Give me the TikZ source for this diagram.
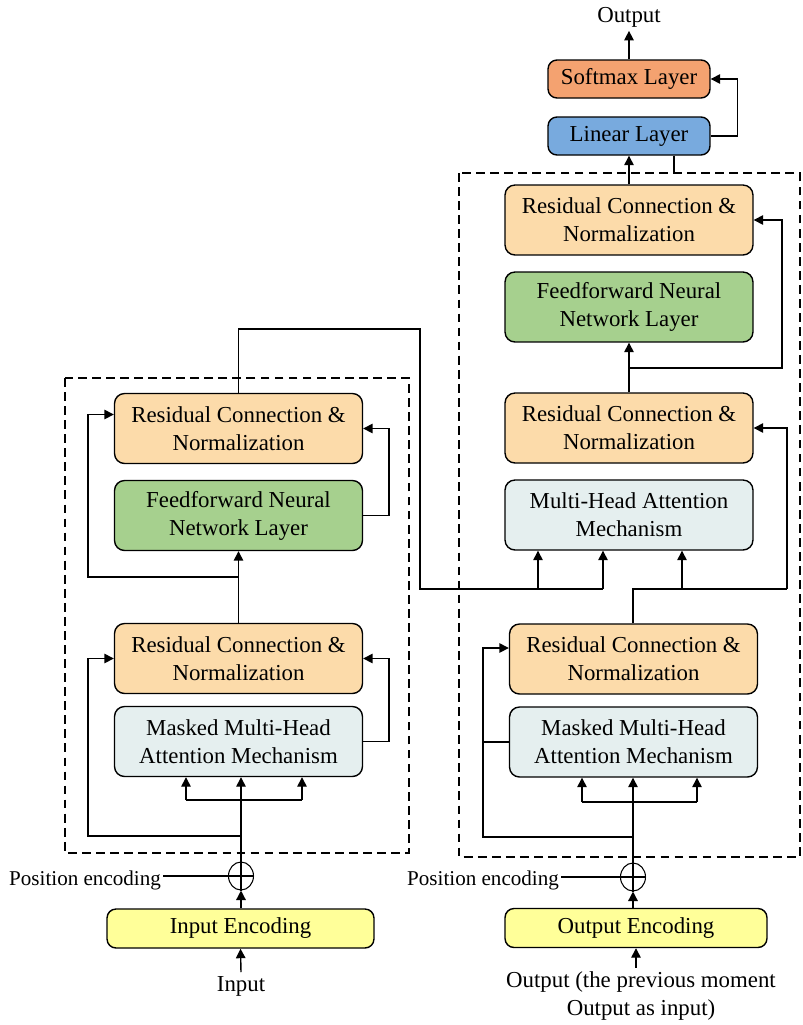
\documentclass[tikz,border=0pt]{standalone}
\usepackage{fontspec}
\setmainfont{Liberation Serif}
\usetikzlibrary{arrows.meta,calc,shapes.geometric}
\definecolor{resc}{RGB}{252,219,170}
\definecolor{ffc}{RGB}{166,208,142}
\definecolor{mhac}{RGB}{229,239,239}
\definecolor{encc}{RGB}{255,255,153}
\definecolor{smc}{RGB}{244,162,112}
\definecolor{linc}{RGB}{120,170,222}
\begin{document}
\begin{tikzpicture}[x=0.02cm,y=-0.02cm,
  font=\fontsize{13}{16}\selectfont,
  box/.style={draw, line width=0.8pt, rounded corners=0.2cm, align=center, inner sep=0pt, minimum width=4.96cm, minimum height=1.4cm},
  res/.style={box, fill=resc},
  ff/.style={box, fill=ffc},
  mha/.style={box, fill=mhac},
  small/.style={draw, line width=0.8pt, rounded corners=0.18cm, align=center, inner sep=0pt, minimum width=3.24cm, minimum height=0.76cm},
  enc/.style={draw, line width=0.8pt, rounded corners=0.18cm, fill=encc, inner sep=0pt, minimum height=0.78cm},
  ln/.style={line width=0.8pt},
  arr/.style={ln, -{Triangle[length=1.9mm,width=1.9mm]}},
  dbox/.style={line width=0.8pt, dash pattern=on 5pt off 3pt},
  plus/.style={draw, ellipse, line width=0.6pt, minimum width=0.5cm, minimum height=0.56cm, inner sep=0pt},
  lbl/.style={inner sep=2pt, align=center},
  poslbl/.style={anchor=east, inner sep=1pt, font=\fontsize{12}{14}\selectfont},
]
\useasboundingbox (0,0) rectangle (803,1025);

% dashed frames
\draw[dbox] (65,378) rectangle (409,853);
\draw[dbox] (459,173) rectangle (800,857);

% ---------- decoder side ----------
\node[lbl] (out) at (629,17) {Output};
\node[small, fill=smc] (soft) at (629,79) {Softmax Layer};
\node[small, fill=linc] (lin) at (629,136) {Linear Layer};
\node[res] (dR3) at (629,220) {Residual Connection \&\\Normalization};
\node[ff] (dFF) at (629,307) {Feedforward Neural\\Network Layer};
\node[res] (dR2) at (629,428) {Residual Connection \&\\Normalization};
\node[mha] (dMHA) at (629,515) {Multi-Head Attention\\Mechanism};
\node[res] (dR1) at (633.5,659) {Residual Connection \&\\Normalization};
\node[mha] (dMM) at (633.5,742) {Masked Multi-Head\\Attention Mechanism};
\node[plus] (dP) at (633,877) {};
\node[enc, minimum width=5.24cm] (dEnc) at (636,928) {Output Encoding};
\node[lbl] (dIn) at (641,996) {Output (the previous moment\\Output as input)};
\node[poslbl] (dPos) at (561,880) {Position encoding};

% ---------- encoder side ----------
\node[res] (eR2) at (238.5,428.5) {Residual Connection \&\\Normalization};
\node[ff] (eFF) at (238.5,515.5) {Feedforward Neural\\Network Layer};
\node[res] (eR1) at (238.5,658.5) {Residual Connection \&\\Normalization};
\node[mha] (eMM) at (238.5,741.5) {Masked Multi-Head\\Attention Mechanism};
\node[plus] (eP) at (241,876) {};
\node[enc, minimum width=5.34cm] (eEnc) at (240.5,928.5) {Input Encoding};
\node[lbl] (eIn) at (241,986) {Input};
\node[poslbl] (ePos) at (163,880) {Position encoding};

% ---------- top connectors ----------
\draw[arr] (soft.north) -- (out.south);
\draw[arr] (lin.east) -- ++(27,0) |- (soft.east);
\draw[arr] (dR3.north) -- (lin.south);
\coordinate (tick) at (674,173);
\draw[ln] (lin.south -| tick) -- (tick);

% ---------- decoder connectors ----------
\coordinate (dj3) at (629,368);
\coordinate (dk3) at (782,368);
\draw[arr] (dR2.north) -- (dFF.south);
\draw[arr] (dj3) -- (dk3) |- (dR3.east);

\coordinate (dj2) at (633,589);
\coordinate (dk2) at (787,589);
\coordinate (dq) at (682,589);
\draw[ln] (dR1.north -| dj2) -- (dj2) -- (dk2);
\draw[arr] (dk2) |- (dR2.east);
\draw[arr] (dq) -- (dq |- dMHA.south);

% encoder output into decoder attention
\coordinate (c2) at (420,329);
\coordinate (c3) at (420,589);
\coordinate (c4) at (603,589);
\coordinate (c5) at (538,589);
\draw[ln] (eR2.north) |- (c2) -- (c3) -- (c4);
\draw[arr] (c4) -- (c4 |- dMHA.south);
\draw[arr] (c5) -- (c5 |- dMHA.south);

% decoder bottom
\draw[arr] (dEnc.north -| dP) -- (dP.south);
\draw[ln] (dP.south) -- (dP.north);
\draw[arr] (dP.north) -- (dP |- dMM.south);
\draw[ln] (dP.west -| dPos.east) -- (dP.east);
\coordinate (dbl) at (582,802);
\coordinate (dbr) at (697,802);
\draw[ln] (dbl) -- (dbr);
\draw[arr] (dbl) -- (dbl |- dMM.south);
\draw[arr] (dbr) -- (dbr |- dMM.south);
\coordinate (dr) at (633,837);
\coordinate (drl) at (483,837);
\draw[arr] (dr) -- (drl) |- ([yshift=0.22cm]dR1.west);
\draw[ln] (dMM.west) -- (dMM.west -| drl);

% ---------- encoder connectors ----------
\draw[arr] (eEnc.north -| eP) -- (eP.south);
\draw[ln] (eP.south) -- (eP.north);
\draw[arr] (eP.north) -- (eP |- eMM.south);
\draw[ln] (eP.west -| ePos.east) -- (eP.east);
\coordinate (ebl) at (186,800);
\coordinate (ebr) at (302,800);
\draw[ln] (ebl) -- (ebr);
\draw[arr] (ebl) -- (ebl |- eMM.south);
\draw[arr] (ebr) -- (ebr |- eMM.south);
\coordinate (er) at (241,836);
\coordinate (erl) at (88,836);
\draw[arr] (er) -- (erl) |- (eR1.west);
\draw[arr] (eMM.east) -- ++(26,0) |- (eR1.east);
\draw[arr] (eR1.north) -- (eFF.south);
\coordinate (ej) at (238.5,577);
\coordinate (ejl) at (88,577);
\draw[arr] (ej) -- (ejl) |- ([yshift=0.28cm]eR2.west);
\draw[arr] (eFF.east) -- ++(26,0) |- (eR2.east);

% input arrows
\draw[arr] (eIn.north) -- (eEnc.south);
\draw[arr] (dIn.north -| dEnc) -- (dEnc.south);
\end{tikzpicture}
\end{document}
